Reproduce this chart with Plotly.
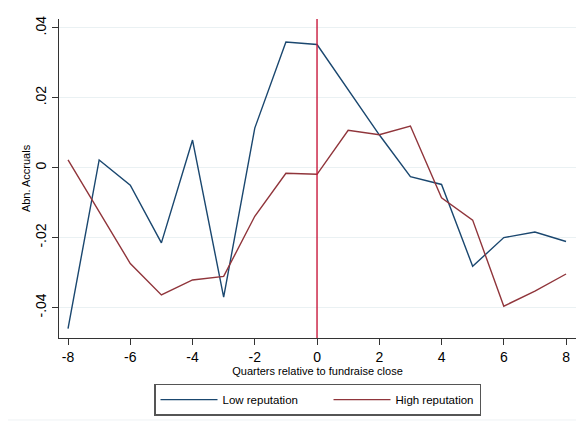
import plotly.graph_objects as go

quarters = [-8, -7, -6, -5, -4, -3, -2, -1, 0, 1, 2, 3, 4, 5, 6, 7, 8]
low_rep = [-0.0460, 0.0022, -0.0050, -0.0215, 0.0079, -0.0370, 0.0113, 0.0359, 0.0352,
           0.0223, 0.0094, -0.0026, -0.0048, -0.0282, -0.0200, -0.0184, -0.0211]
high_rep = [0.0022, -0.0125, -0.0274, -0.0364, -0.0321, -0.0311, -0.0139, -0.0016, -0.0019,
            0.0107, 0.0094, 0.0119, -0.0086, -0.0150, -0.0396, -0.0353, -0.0304]
x_ticks = [-8, -6, -4, -2, 0, 2, 4, 6, 8]
x_ticklabels = ["-8", "-6", "-4", "-2", "0", "2", "4", "6", "8"]
y_ticks = [-0.04, -0.02, 0, 0.02, 0.04]
y_ticklabels = ["-.04", "-.02", "0", ".02", ".04"]
event_quarter = 0
series_names = ["Low reputation", "High reputation"]

NB = "\u00a0"
fig = go.Figure()
fig.add_trace(go.Scatter(x=quarters, y=low_rep, mode="lines", name=series_names[0] + NB * 8,
                         line=dict(color="#1a476f", width=1.4)))
fig.add_trace(go.Scatter(x=quarters, y=high_rep, mode="lines", name=series_names[1],
                         line=dict(color="#90353b", width=1.4)))

fig.add_shape(type="line", xref="x", yref="paper", x0=event_quarter, x1=event_quarter,
              y0=0, y1=1, line=dict(color="#c8193c", width=1.4), layer="above")
# faint outer graph region border
fig.add_shape(type="rect", xref="paper", yref="paper", x0=-0.106, x1=1.008, y0=-0.257, y1=1.047,
              line=dict(color="#eef2f4", width=1), fillcolor="rgba(0,0,0,0)")

fig.update_layout(
    width=576, height=416,
    margin=dict(l=51, r=8, t=11, b=86),
    paper_bgcolor="white", plot_bgcolor="white",
    font=dict(family="Liberation Sans, Arial, sans-serif", color="#000000"),
    showlegend=True,
    legend=dict(orientation="h", x=0.5, xanchor="center", y=-0.143, yanchor="top",
                bordercolor="#555555", borderwidth=1.5, font=dict(size=11.5),
                itemwidth=57, bgcolor="white"),
)
fig.update_xaxes(
    range=[-8.29, 8.32], tickvals=x_ticks, ticktext=x_ticklabels, ticks="outside", ticklen=6,
    tickcolor="#333333", automargin=False,
    showline=True, linecolor="#333333", linewidth=1.2, showgrid=False, zeroline=False,
    tickfont=dict(size=14),
    title=dict(text="Quarters relative to fundraise close", font=dict(size=11), standoff=2),
)
fig.update_yaxes(
    range=[-0.0487, 0.0425], tickvals=y_ticks, ticktext=y_ticklabels, tickangle=-90,
    ticks="outside", ticklen=6, tickcolor="#333333", automargin=False,
    showline=True, linecolor="#333333", linewidth=1.2,
    showgrid=True, gridcolor="#eaf1f3", gridwidth=1, zeroline=False,
    tickfont=dict(size=14),
    title=dict(text="Abn. Accruals", font=dict(size=11), standoff=0),
)

fig.write_html("out.html")
